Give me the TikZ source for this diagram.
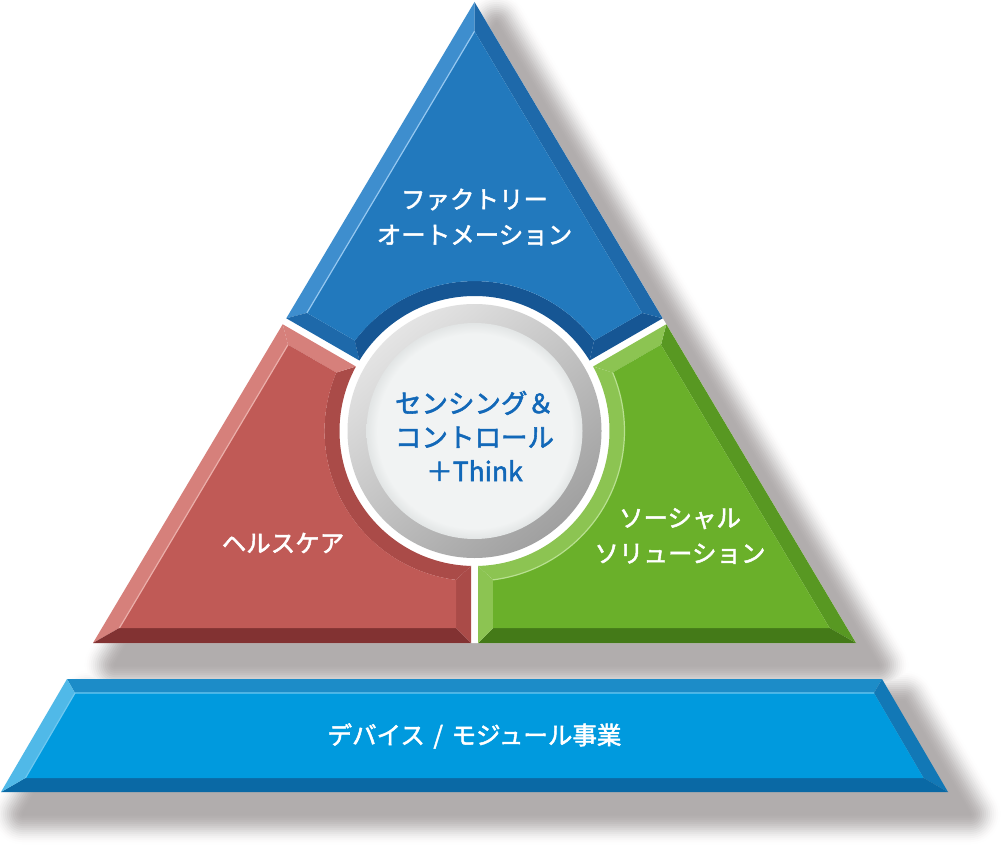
\documentclass[tikz,border=0pt]{standalone}
\usepackage{fontspec}
\newfontfamily\jp[FakeBold=2]{Noto Sans CJK JP}
\usetikzlibrary{calc}
\definecolor{bluebase}{RGB}{34,121,189}
\definecolor{bluelight}{RGB}{62,142,206}
\definecolor{bluemid}{RGB}{30,105,170}
\definecolor{bluedark}{RGB}{22,86,148}
\definecolor{bluehl}{RGB}{150,200,240}
\definecolor{redbase}{RGB}{192,90,86}
\definecolor{redlight}{RGB}{214,128,123}
\definecolor{redmid}{RGB}{170,75,72}
\definecolor{reddark}{RGB}{130,50,50}
\definecolor{redhl}{RGB}{235,175,170}
\definecolor{greenbase}{RGB}{106,176,42}
\definecolor{greenlight}{RGB}{140,196,82}
\definecolor{greenmid}{RGB}{88,152,34}
\definecolor{greendark}{RGB}{68,122,24}
\definecolor{greenhl}{RGB}{185,224,145}
\definecolor{trapbase}{RGB}{0,154,222}
\definecolor{traptop}{RGB}{28,140,200}
\definecolor{trapleft}{RGB}{80,185,232}
\definecolor{trapbottom}{RGB}{10,105,165}
\definecolor{trapright}{RGB}{18,120,182}
\definecolor{traphl}{RGB}{110,200,240}
\definecolor{shadowc}{RGB}{100,92,92}
\definecolor{centertext}{RGB}{18,104,184}
\definecolor{ringin}{RGB}{241,243,243}
\definecolor{ringedge}{RGB}{226,229,229}
\definecolor{ringlight}{RGB}{228,228,228}
\definecolor{ringdark}{RGB}{160,160,160}
\pgfdeclareradialshading{dish}{\pgfpoint{0bp}{0bp}}{%
  color(0bp)=(ringin); color(22.5bp)=(ringin); color(25bp)=(ringedge); color(50bp)=(ringedge)}
\tikzset{
  label/.style={text=white,font=\jp\fontsize{24.5}{35.5}\selectfont,align=center,inner sep=0pt},
  centerlabel/.style={text=centertext,font=\jp\fontsize{26.5}{34}\selectfont,align=center,inner sep=0pt}
}
\begin{document}
\begin{tikzpicture}[x=1pt,y=-1pt]
\useasboundingbox (0,0) rectangle (1008,858);
\coordinate (C) at (474.5,431);
% soft shadows: opaque layers from the outside in, both shapes per layer
\foreach \h in {32,30,...,0}{
  \pgfmathsetmacro\s{1-\h/32}
  \pgfmathsetmacro\p{50*\s*\s*(3-2*\s)}
  \pgfmathsetmacro\lw{2*\h}
  \filldraw[draw=shadowc!\p!white,fill=shadowc!\p!white,line width=\lw pt,line join=round]
    (496.5,24)--(115,665)--(878,665)--cycle;
  \filldraw[draw=shadowc!\p!white,fill=shadowc!\p!white,line width=\lw pt,line join=round]
    (89,701)--(904,701)--(970,814)--(23,814)--cycle;
}
% triangle corners
\coordinate (A) at (474.5,2); \coordinate (Ai) at (474.5,31.3);
\coordinate (L) at (93,643); \coordinate (R) at (856,643);
\fill[white] (A)--(L)--(R)--cycle;
% ---- blue segment
\coordinate (PL) at (286.3,318.3); \coordinate (QL) at (306.9,312.9);
\coordinate (BLo) at (359.4,360.5); \coordinate (BLi) at (354.9,340.6);
\coordinate (BRo) at (589.6,360.5); \coordinate (BRi) at (594.1,340.6);
\coordinate (PR) at (662.7,318.3); \coordinate (QR) at (642.1,312.9);
\fill[bluelight] (A)--(PL)--(QL)--(Ai)--cycle;
\fill[bluemid] (PL)--(BLo)--(BLi)--(QL)--cycle;
\fill[bluedark] (BLo) arc[start angle=211.49,end angle=328.51,radius=135] -- (BRi) arc[start angle=322.91,end angle=217.09,radius=150] -- cycle;
\fill[bluedark] (BRo)--(PR)--(QR)--(BRi)--cycle;
\fill[bluemid] (PR)--(A)--(Ai)--(QR)--cycle;
\fill[bluebase] (Ai)--(QL)--(BLi) arc[start angle=217.09,end angle=322.91,radius=150]--(QR)--cycle;
\draw[bluehl,line width=1.2pt] (QL)--(Ai);
% ---- red segment
\coordinate (RL1) at (282.7,324.3); \coordinate (RL1i) at (288.0,344.7);
\coordinate (Li) at (119.4,628);
\coordinate (RB) at (471,643); \coordinate (RBi) at (456,628);
\coordinate (R3o) at (471,565.95); \coordinate (R3i) at (456,579.85);
\coordinate (R1o) at (355.9,366.5); \coordinate (R1i) at (336.3,372.6);
\fill[redlight] (RL1)--(L)--(Li)--(RL1i)--cycle;
\fill[reddark] (L)--(RB)--(RBi)--(Li)--cycle;
\fill[redmid] (RB)--(R3o)--(R3i)--(RBi)--cycle;
\fill[redmid] (R3o) arc[start angle=91.49,end angle=208.51,radius=135] -- (R1i) arc[start angle=202.92,end angle=97.09,radius=150] -- cycle;
\fill[redlight] (R1o)--(RL1)--(RL1i)--(R1i)--cycle;
\fill[redbase] (RL1i)--(Li)--(RBi)--(R3i) arc[start angle=97.09,end angle=202.92,radius=150] -- cycle;
\draw[redhl,line width=1.2pt] (RL1i)--(Li);
% ---- green segment
\coordinate (GR1) at (666.3,324.3); \coordinate (GR1i) at (661.0,344.7);
\coordinate (Ri) at (829.6,628);
\coordinate (GB) at (478,643); \coordinate (GBi) at (493,628);
\coordinate (G3o) at (478,565.95); \coordinate (G3i) at (493,579.85);
\coordinate (G2o) at (593.1,366.5); \coordinate (G2i) at (612.7,372.6);
\fill[greenmid] (GR1)--(R)--(Ri)--(GR1i)--cycle;
\fill[greendark] (R)--(GB)--(GBi)--(Ri)--cycle;
\fill[greenlight] (GB)--(G3o)--(G3i)--(GBi)--cycle;
\fill[greenlight] (G3o) arc[start angle=88.51,end angle=-28.51,radius=135] -- (G2i) arc[start angle=-22.92,end angle=82.91,radius=150] -- cycle;
\fill[greenlight] (G2o)--(GR1)--(GR1i)--(G2i)--cycle;
\fill[greenbase] (GR1i)--(Ri)--(GBi)--(G3i) arc[start angle=82.91,end angle=-22.92,radius=150] -- cycle;
\draw[greenhl,line width=1.2pt] (G3i) arc[start angle=82.91,end angle=-22.92,radius=150];
% ---- centre circle
\begin{scope}[shift={(C)},yscale=-1]
  \shade[top color=ringlight,bottom color=ringdark,shading angle=40] (0,0) circle[radius=127];
  \shade[shading=dish] (0,0) circle[radius=108];
\end{scope}
% ---- trapezoid
\coordinate (TL) at (67,679); \coordinate (TR) at (882,679);
\coordinate (BR) at (948,792); \coordinate (BL) at (1,792);
\coordinate (TLi) at (75,693); \coordinate (TRi) at (874,693);
\coordinate (BRi2) at (923.6,778); \coordinate (BLi2) at (25.4,778);
\fill[traptop] (TL)--(TR)--(TRi)--(TLi)--cycle;
\fill[trapright] (TR)--(BR)--(BRi2)--(TRi)--cycle;
\fill[trapbottom] (BR)--(BL)--(BLi2)--(BRi2)--cycle;
\fill[trapleft] (BL)--(TL)--(TLi)--(BLi2)--cycle;
\fill[trapbase] (TLi)--(TRi)--(BRi2)--(BLi2)--cycle;
\draw[traphl,line width=1.2pt] (BLi2)--(TLi)--(TRi);
% ---- labels
\node[label] (fa) at (474.5,217) {ファクトリー\\オートメーション};
\node[label] (hc) at (283,543) {ヘルスケア};
\node[label] (ss) at (680,536) {ソーシャル\\ソリューション};
\node[label] (dm) at (474.5,736) {デバイス\hspace{0.35em}/\hspace{0.35em}モジュール事業};
\node[centerlabel] (sc) at (474.5,436) {センシング＆\\コントロール\\＋Think};
\end{tikzpicture}
\end{document}
